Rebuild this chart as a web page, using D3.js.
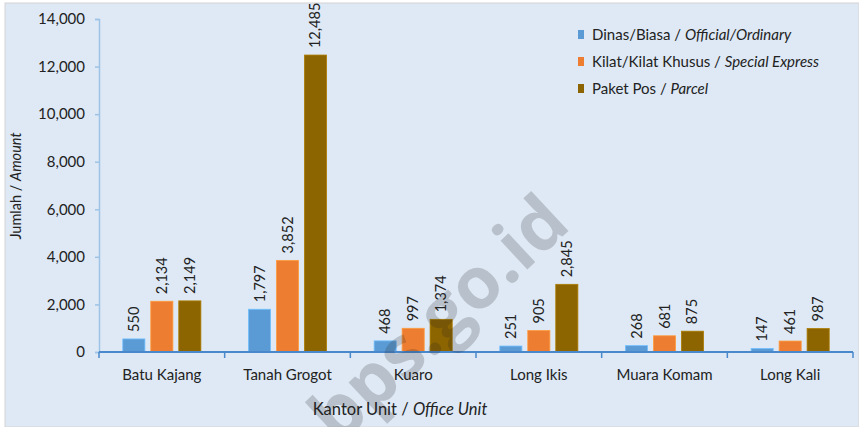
<!DOCTYPE html>
<html>
<head>
<meta charset="utf-8">
<script src="https://cdn.jsdelivr.net/npm/d3@7"></script>
<style>
body { margin: 0; background: #fff; }
text { font-family: Lato, "Open Sans", sans-serif; fill: #222; }
</style>
</head>
<body>
<svg width="859" height="427"></svg>
<script>
var svg = d3.select("svg"),
  width = +svg.attr("width"),
  height = +svg.attr("height");

// data
var offices = ["Batu Kajang", "Tanah Grogot", "Kuaro", "Long Ikis", "Muara Komam", "Long Kali"];
var seriesNames = ["Dinas/Biasa", "Kilat/Kilat Khusus", "Paket Pos"];
var seriesEnglish = ["Official/Ordinary", "Special Express", "Parcel"];
var official = [550, 1797, 468, 251, 268, 147];
var express = [2134, 3852, 997, 905, 681, 461];
var parcel = [2149, 12485, 1374, 2845, 875, 987];
var yTicks = [0, 2000, 4000, 6000, 8000, 10000, 12000, 14000];

var colors = ["#5b9bd5", "#ed7d31", "#8c6400"];
var values = [official, express, parcel];

// background panel
svg.append("rect")
  .attr("x", 5).attr("y", 3)
  .attr("width", width - 5).attr("height", height - 3)
  .attr("fill", "#dee9f5")
  .attr("stroke", "#d4d4d4");

var x0 = d3.scaleBand().domain(offices).range([99, 853]);
var x1 = d3.scaleBand().domain(d3.range(3))
  .range([0, x0.bandwidth()])
  .paddingInner(0.21).paddingOuter(0.85);
var y = d3.scaleLinear().domain([0, 14000]).range([352, 19]);

// y axis
var yAxis = svg.append("g")
  .attr("transform", "translate(99,0)")
  .call(d3.axisLeft(y).tickValues(yTicks).tickFormat(d3.format(",")).tickSize(4).tickPadding(10));
yAxis.select(".domain").attr("stroke", "#9dc3e6").attr("stroke-width", 1.5);
yAxis.selectAll(".tick line").attr("stroke", "#9dc3e6").attr("stroke-width", 1.5);
yAxis.selectAll("text").style("font-size", "15px").attr("fill", "#222");

// bars
var g = svg.append("g");
offices.forEach(function(o, i) {
  values.forEach(function(arr, s) {
    var bx = x0(o) + x1(s), by = y(arr[i]);
    g.append("rect")
      .attr("x", bx).attr("y", by)
      .attr("width", x1.bandwidth())
      .attr("height", y(0) - by)
      .attr("fill", colors[s])
      .attr("stroke", d3.color(colors[s]).brighter(0.6))
      .attr("stroke-width", 0.8);
    g.append("text")
      .attr("transform", "translate(" + (bx + x1.bandwidth() / 2 + 5) + "," + (by - 7) + ") rotate(-90)")
      .attr("text-anchor", "start")
      .style("font-size", "14.5px")
      .text(d3.format(",")(arr[i]));
  });
});

// x axis
var xAxisG = svg.append("g").attr("transform", "translate(0,352)");
xAxisG.append("line").attr("x1", 99).attr("x2", 853).attr("stroke", "#4a88cc").attr("stroke-width", 2);
var bounds = offices.map(function(o) { return x0(o); }).concat([853]);
xAxisG.selectAll(".tk").data(bounds).enter().append("line")
  .attr("x1", d => d).attr("x2", d => d)
  .attr("y1", 0).attr("y2", 6)
  .attr("stroke", "#4a88cc").attr("stroke-width", 1.5);
xAxisG.selectAll(".lbl").data(offices).enter().append("text")
  .attr("x", d => x0(d) + x0.bandwidth() / 2)
  .attr("y", 28)
  .attr("text-anchor", "middle")
  .style("font-size", "15px")
  .text(d => d);

// axis titles
var xt = svg.append("text").attr("x", 400).attr("y", 415).attr("text-anchor", "middle").style("font-size", "16.5px");
xt.append("tspan").text("Kantor Unit / ");
xt.append("tspan").style("font-style", "italic").text("Office Unit");

var yt = svg.append("text").attr("transform", "translate(21,186) rotate(-90)").attr("text-anchor", "middle").style("font-size", "14.5px");
yt.append("tspan").text("Jumlah / ");
yt.append("tspan").style("font-style", "italic").text("Amount");

// legend
var legend = svg.append("g").attr("transform", "translate(578,30)");
seriesNames.forEach(function(n, s) {
  var row = legend.append("g").attr("transform", "translate(0," + (s * 27) + ")");
  row.append("rect").attr("width", 6).attr("height", 9).attr("fill", colors[s]);
  var t = row.append("text").attr("x", 14).attr("y", 10).style("font-size", "15px");
  t.append("tspan").text(n + " / ");
  t.append("tspan").style("font-style", "italic").text(seriesEnglish[s]);
});

// watermark
svg.append("text")
  .attr("transform", "translate(338,446) rotate(-43)")
  .style("font-size", "72px").style("font-weight", "bold")
  .style("font-family", "'Open Sans', sans-serif")
  .attr("fill", "#8c959e").attr("fill-opacity", 0.2)
  .text("bps.go.id");
</script>
</body>
</html>
